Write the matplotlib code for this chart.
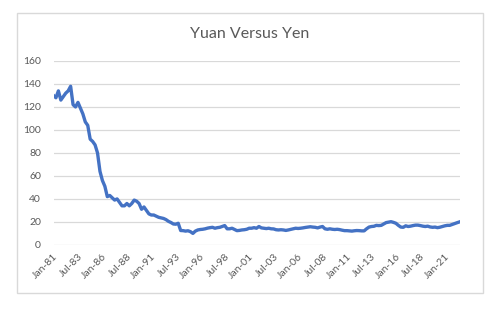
import numpy as np
import matplotlib.pyplot as plt
from matplotlib.patches import Rectangle

plt.rcParams["font.family"] = ["Lato", "DejaVu Sans"]

TEXT = "#595959"
GRID = "#d9d9d9"
LINE = "#4472c4"

# quarterly readings, Jan-81 .. Jul-22 (yen per yuan)
yuan_yen = [
    130, 128, 134, 126, 129, 132, 134, 138, 122, 120,
    124, 119, 114, 107, 104, 92, 90, 87, 80, 64,
    56, 51, 42, 43, 41, 39, 40, 37, 34, 34,
    36, 34, 36, 39, 38, 36, 31, 33, 30, 27,
    26, 26, 25, 24, 23.5, 23, 22, 20.5, 19.5, 18.2,
    18, 18.8, 12.5, 12.4, 12, 12.3, 11.5, 10, 12, 13,
    13.4, 13.6, 14, 14.6, 15, 15.3, 14.5, 15, 15.3, 16,
    16.8, 14, 14, 14.5, 13.5, 12.4, 12.6, 13, 13.2, 13.6,
    14.5, 14.5, 15, 14.5, 16, 14.8, 14.5, 14.2, 14.5, 14,
    13.9, 13.2, 13, 13.2, 13, 12.6, 13, 13.5, 14, 14.5,
    14.3, 14.5, 14.8, 15.2, 15.5, 15.8, 15.5, 15.3, 14.8, 15.5,
    16, 14, 13.6, 14, 13.6, 13.4, 13.6, 13.3, 12.8, 12.4,
    12.4, 12.2, 12, 12.3, 12.5, 12.4, 12.2, 12.2, 14, 15.5,
    16, 16.2, 17, 16.8, 17, 18.2, 19.4, 19.8, 20.2, 19.6,
    18.8, 17, 15.5, 15.3, 16.6, 16, 16.3, 16.8, 17.2, 17.2,
    16.8, 16.3, 16, 16.3, 15.6, 15.3, 15.5, 15, 15.4, 16,
    16.6, 17, 17, 17.8, 18.5, 19.3, 20,
]
tick_labels = ["Jan-81", "Jul-83", "Jan-86", "Jul-88", "Jan-91", "Jul-93",
               "Jan-96", "Jul-98", "Jan-01", "Jul-03", "Jan-06", "Jul-08",
               "Jan-11", "Jul-13", "Jan-16", "Jul-18", "Jan-21"]
y_ticks = [0, 20, 40, 60, 80, 100, 120, 140, 160]

months = np.arange(len(yuan_yen)) * 3  # months since Jan-81

fig = plt.figure(figsize=(5.0, 3.16), dpi=100)
fig.patches.append(Rectangle((0.034, 0.073), 0.932, 0.886, transform=fig.transFigure,
                             facecolor="none", edgecolor=GRID, lw=1.0))

ax = fig.add_axes([0.107, 0.225, 0.812, 0.582])
ax.set_facecolor("none")
ax.plot(months, yuan_yen, color=LINE, lw=2.4, solid_joinstyle="round", zorder=3)

ax.set_xlim(0, months[-1])
ax.set_ylim(0, 160)
ax.set_yticks(y_ticks)
ax.set_xticks(np.arange(len(tick_labels)) * 30)
ax.set_xticklabels(tick_labels, rotation=45, ha="right", va="top",
                   rotation_mode="anchor")
ax.tick_params(axis="both", length=0, labelsize=7.5, labelcolor=TEXT)
ax.tick_params(axis="y", pad=9)
ax.tick_params(axis="x", pad=5)
ax.grid(axis="y", color=GRID, lw=0.9)
ax.set_axisbelow(True)
for s in ax.spines.values():
    s.set_visible(False)

fig.text(0.5, 0.893, "Yuan Versus Yen", ha="center", va="center",
         fontsize=11.5, color=TEXT)

fig.savefig("out.png", dpi=100)
